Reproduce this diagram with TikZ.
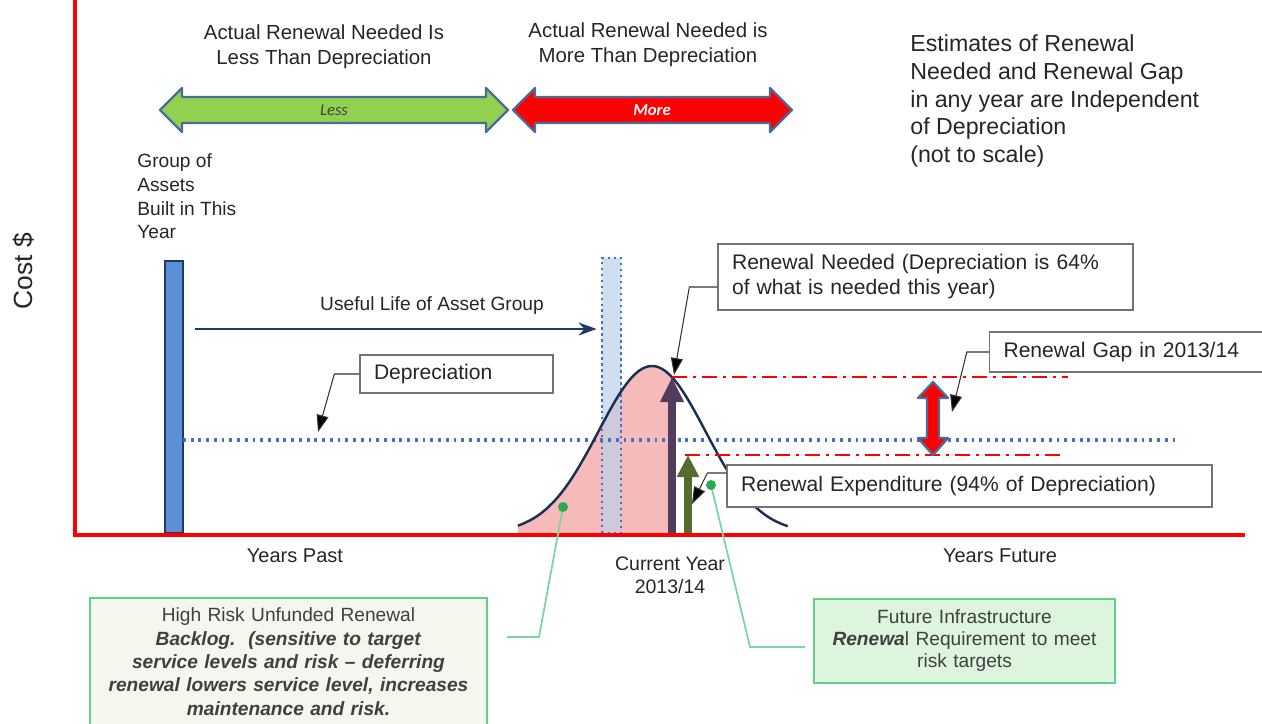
\documentclass[tikz,border=0pt]{standalone}
\usepackage{fontspec}
\setmainfont{Liberation Sans}
\newfontfamily\calibri{Carlito}
\usetikzlibrary{arrows.meta}

\definecolor{axisred}{RGB}{255,0,0}
\definecolor{barblue}{RGB}{91,143,214}
\definecolor{navy}{RGB}{31,56,100}
\definecolor{dotblue}{RGB}{68,114,196}
\definecolor{paleblue}{RGB}{190,208,234}
\definecolor{arrowgreen}{RGB}{146,208,80}
\definecolor{edgeblue}{RGB}{74,108,155}
\definecolor{bellpink}{RGB}{246,186,186}
\definecolor{needpurple}{RGB}{80,60,92}
\definecolor{spendolive}{RGB}{85,107,47}
\definecolor{markgreen}{RGB}{40,170,80}
\definecolor{leadgreen}{RGB}{120,215,160}
\definecolor{boxgreen}{RGB}{100,205,135}
\definecolor{backlogfill}{RGB}{244,247,238}
\definecolor{futurefill}{RGB}{220,245,220}
\definecolor{inkgray}{RGB}{38,38,38}

\newcommand{\bfit}[1]{\textbf{\textit{#1}}}

\begin{document}
\begin{tikzpicture}[x=0.02cm, y=-0.02cm,
    every node/.append style={text=inkgray},
    headtext/.style={align=center, inner sep=0, font=\fontsize{11.6}{14.2}\selectfont},
    smalltext/.style={inner sep=0, font=\fontsize{10.9}{13.6}\selectfont},
    axistext/.style={inner sep=0, align=center, font=\fontsize{11.4}{13}\selectfont},
    calloutbox/.style={draw=black!55, fill=white, line width=0.8pt, align=left, inner xsep=0.28cm, font=\fontsize{12}{14.2}\selectfont},
    calloutline/.style={black!80, line width=0.6pt, -{Triangle[width=0.24cm, length=0.34cm, fill=black]}},
    greenbox/.style={draw=boxgreen, line width=1pt, align=center, text=black!75},
    leader/.style={leadgreen, line width=1pt},
    bandedge/.style={draw=edgeblue, line width=1.3pt, line join=round},
    gapline/.style={axisred, line width=1.4pt, dash pattern=on 0.3cm off 0.12cm on 0.06cm off 0.12cm},
    deprline/.style={dotblue, line width=1.8pt, dash pattern=on 1.6pt off 2.8pt}]
    \useasboundingbox (0,0) rectangle (1262,724);
    \clip (0,0) rectangle (1262,724);

    % Headings over the two ranges
    \node[headtext] (lesshead) at (324,47) {Actual Renewal Needed Is\\Less Than Depreciation};
    \node[headtext] (morehead) at (648,45) {Actual Renewal Needed is\\More Than Depreciation};

    \filldraw[bandedge, fill=arrowgreen] (160,110) -- (182,88) -- (182,97) -- (486,97) -- (486,88) -- (508,110) -- (486,132) -- (486,123) -- (182,123) -- (182,132) -- cycle;
    \node[font=\calibri\itshape\fontsize{9.5}{10}\selectfont, text=black!75] (lesstag) at (334,110) {Less};
    \filldraw[bandedge, fill=axisred] (513,110) -- (535,88) -- (535,97) -- (770,97) -- (770,88) -- (792,110) -- (770,132) -- (770,123) -- (535,123) -- (535,132) -- cycle;
    \node[font=\calibri\bfseries\itshape\fontsize{9.5}{10}\selectfont, text=white] (moretag) at (652,110) {More};

    \node[anchor=north west, align=left, inner sep=0, font=\fontsize{13.2}{15.9}\selectfont] (scalenote) at (910,34) {Estimates of Renewal\\Needed and Renewal Gap\\in any year are Independent\\of Depreciation\\(not to scale)};

    % Axes
    \node[rotate=90, inner sep=0, font=\fontsize{15}{18}\selectfont] (costlabel) at (24,271) {Cost \$};
    \coordinate (ytop) at (75,0);
    \coordinate (origin) at (75,535);
    \coordinate (xend) at (1245,535);

    % Asset group and its useful life
    \node[smalltext, anchor=north west, align=left] (grouplabel) at (137,153) {Group of\\Assets\\Built in This\\Year};
    \node[draw=navy, fill=barblue, line width=1.1pt, minimum width=0.36cm, minimum height=5.44cm, inner sep=0] (assetbar) at (174,397) {};

    % Bell curve of renewal needed
    \fill[bellpink] plot[domain=-2.5:0.372, samples=40] ({652+53.7*\x},{533-167*exp(-0.5*\x*\x)}) -- (672,533) -- (518,533) -- cycle;
    \node[draw=dotblue, line width=1.6pt, dash pattern=on 1.4pt off 2pt, fill=paleblue, fill opacity=0.7, minimum width=0.38cm, minimum height=5.5cm, inner sep=0] (lifecol) at (611.5,395.5) {};

    \coordinate (lifestart) at (195,329);
    \draw[navy, line width=1pt, -{Stealth[width=0.26cm, length=0.36cm]}] (lifestart) -- ([xshift=-0.08cm]lifestart -| lifecol.west);
    \node[smalltext] (lifelabel) at (432,306) {Useful Life of Asset Group};

    \coordinate (deprstart) at (183,440);
    \coordinate (deprend) at (1175,440);
    \draw[deprline] (deprstart) -- (deprend);

    \draw[navy!85!black, line width=1.4pt] plot[domain=-2.5:2.53, samples=70] ({652+53.7*\x},{533-167*exp(-0.5*\x*\x)});

    \draw[axisred, line width=2.4pt] (ytop) -- (origin) -- (xend);

    % Needed and spent this year
    \coordinate (needbase) at (672,533);
    \coordinate (needtop) at (672,377);
    \coordinate (spendbase) at (688,533);
    \coordinate (spendtop) at (688,455);
    \draw[gapline] (needtop) -- (1068,377);
    \draw[gapline] ([xshift=-0.06cm]spendtop) -- (1062,455);
    \draw[needpurple, line width=4.5pt, -{Triangle[width=0.44cm, length=0.5cm]}] (needbase) -- (needtop);
    \draw[spendolive, line width=4.5pt, -{Triangle[width=0.42cm, length=0.44cm]}] (spendbase) -- (spendtop);

    % Renewal gap
    \filldraw[bandedge, fill=axisred] (933,382) -- (948,398) -- (939,398) -- (939,438) -- (948,438) -- (933,455) -- (918,438) -- (927,438) -- (927,398) -- (918,398) -- cycle;

    % Callouts
    \node[calloutbox, minimum width=3.86cm, minimum height=0.76cm, text width=3.3cm] (deprbox) at (456.5,374) {Depreciation};
    \node[calloutbox, minimum width=8.3cm, minimum height=1.32cm, text width=7.74cm] (needbox) at (925.5,277) {Renewal Needed (Depreciation is 64\%\\of what is needed this year)};
    \node[calloutbox, minimum width=5.7cm, minimum height=0.8cm, text width=5.14cm] (gapbox) at (1132,352) {Renewal Gap in 2013/14};
    \node[calloutbox, minimum width=9.7cm, minimum height=0.84cm, text width=9.14cm] (spendbox) at (969.5,486) {Renewal Expenditure (94\% of Depreciation)};

    \coordinate (deprtip) at (318,432);
    \coordinate (needtip) at (674,375);
    \coordinate (gaptip) at (952,412);
    \coordinate (spendtip) at (692,504);
    \draw[calloutline] (deprbox.west) -- ++(-25,0) -- (deprtip);
    \draw[calloutline] ([yshift=-0.2cm]needbox.west) -- ++(-28,0) -- (needtip);
    \draw[calloutline] (gapbox.west) -- ++(-22,0) -- (gaptip);
    \draw[calloutline] ([yshift=0.26cm]spendbox.west) -- ++(-19,0) -- (spendtip);

    % Time labels
    \node[axistext] (pastlabel) at (295,556) {Years Past};
    \node[axistext, font=\fontsize{11.1}{13}\selectfont] (nowlabel) at (670,575) {Current Year\\2013/14};
    \node[axistext] (futurelabel) at (1000,556) {Years Future};

    % Green notes with their leaders
    \node[greenbox, fill=backlogfill, anchor=north, minimum width=7.94cm, text width=7.6cm, inner ysep=0.2cm, font=\fontsize{10.9}{13.3}\selectfont] (backlogbox) at (288.5,597) {High Risk Unfunded Renewal\\\bfit{Backlog.\ \ (sensitive to target}\\\bfit{service levels and risk -- deferring}\\\bfit{renewal lowers service level, increases}\\\bfit{maintenance and risk.}};
    \node[greenbox, fill=futurefill, minimum width=6.02cm, minimum height=1.68cm, text width=5.6cm, font=\fontsize{10.9}{12.5}\selectfont] (futurebox) at (964.5,641) {Future Infrastructure\\\bfit{Renewa}l Requirement to meet\\risk targets};

    \coordinate (backlogdot) at (563,507);
    \coordinate (futuredot) at (711,485);
    \coordinate (backlogend) at (507,637);
    \coordinate (futureend) at (805,647);
    \draw[leader] (backlogdot) -- (539,637) -- (backlogend);
    \draw[leader] (futuredot) -- (750,647) -- (futureend);
    \fill[markgreen] (backlogdot) circle (0.1cm);
    \fill[markgreen] (futuredot) circle (0.1cm);
\end{tikzpicture}
\end{document}
